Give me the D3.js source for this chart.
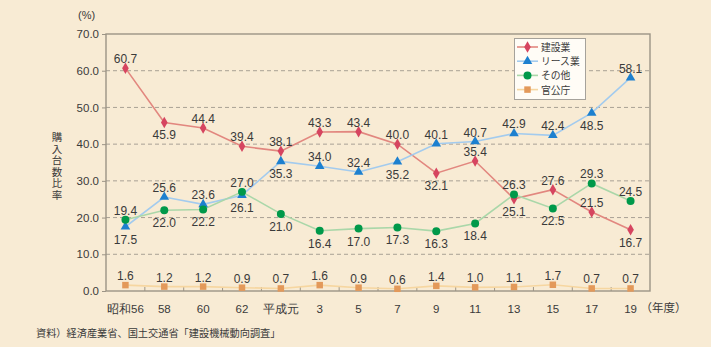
<!DOCTYPE html>
<html><head><meta charset="utf-8">
<script src="https://cdn.jsdelivr.net/npm/d3@7"></script>
<style>
html,body{margin:0;padding:0;background:#f8ebd4;}
svg{display:block;font-family:"Liberation Sans",Arial,"Noto Sans CJK JP",sans-serif;}
</style></head><body>
<svg id="c" width="711" height="347"></svg>
<script>
const categories = ["昭和56","58","60","62","平成元","3","5","7","9","11","13","15","17","19"];
const kensetsu = [60.7,45.9,44.4,39.4,38.1,43.3,43.4,40.0,32.1,35.4,25.1,27.6,21.5,16.7];
const lease    = [17.5,25.6,23.6,26.1,35.3,34.0,32.4,35.2,40.1,40.7,42.9,42.4,48.5,58.1];
const sonota   = [19.4,22.0,22.2,27.0,21.0,16.4,17.0,17.3,16.3,18.4,26.3,22.5,29.3,24.5];
const kankocho = [1.6,1.2,1.2,0.9,0.7,1.6,0.9,0.6,1.4,1.0,1.1,1.7,0.7,0.7];
const yTicks = [0,10,20,30,40,50,60,70];
const seriesNames = ["建設業","リース業","その他","官公庁"];
// label placement: a = above, b = below
const kensetsuLbl = ["a","b","a","a","a","a","a","a","b","a","b","a","a","b"];
const leaseLbl    = ["b","a","a","b","b","a","a","b","a","a","a","a","b","a"];
const sonotaLbl   = ["a","b","b","a","b","b","b","b","b","b","a","b","a","a"];
const kankochoLbl = ["a","a","a","a","a","a","a","a","a","a","a","a","a","a"];

const series = [
  {name:seriesNames[0], values:kensetsu, lbl:kensetsuLbl, line:"#e2877f", mark:"#d64560", sym:d3.symbolDiamond, size:38},
  {name:seriesNames[1], values:lease, lbl:leaseLbl, line:"#a3cbee", mark:"#1d80cf", sym:d3.symbolTriangle, size:40},
  {name:seriesNames[2], values:sonota, lbl:sonotaLbl, line:"#aad7a9", mark:"#00994a", sym:d3.symbolCircle, size:50},
  {name:seriesNames[3], values:kankocho, lbl:kankochoLbl, line:"#f6d6a0", mark:"#e3995a", sym:d3.symbolSquare, size:42}
];

const svg = d3.select("#c");
const L=106, R=650, T=34, B=291;
const x = d3.scaleBand().domain(categories).range([L,R]);
const y = d3.scaleLinear().domain([0,70]).range([B,T]);
const cx = c => x(c)+x.bandwidth()/2;
const txt = "#3a3a3a", axisCol="#9c9486";

// grid
svg.append("g").selectAll("line").data(yTicks.filter(t=>t>0&&t<70)).join("line")
  .attr("x1",L).attr("x2",R).attr("y1",d=>y(d)).attr("y2",d=>y(d))
  .attr("stroke","#a9a195").attr("stroke-width",1).attr("stroke-dasharray","4,3");

// frame
svg.append("rect").attr("x",L).attr("y",T).attr("width",R-L).attr("height",B-T)
  .attr("fill","none").attr("stroke",axisCol).attr("stroke-width",1.4);

// y axis
const ya = svg.append("g").attr("transform",`translate(${L},0)`)
  .call(d3.axisLeft(y).tickValues(yTicks).tickFormat(d3.format(".1f")).tickSize(4).tickPadding(3));
ya.select(".domain").remove();
ya.selectAll("line").attr("stroke",axisCol);
ya.selectAll("text").attr("fill",txt).attr("font-size",11.5);

// x axis
const xa = svg.append("g").attr("transform",`translate(0,${B})`)
  .call(d3.axisBottom(x).tickSize(0).tickPadding(14));
xa.select(".domain").remove();
xa.selectAll("text").attr("fill",txt).attr("font-size",11.5);
// minor ticks at band boundaries
svg.append("g").selectAll("line").data(categories.slice(1)).join("line")
  .attr("x1",d=>x(d)).attr("x2",d=>x(d)).attr("y1",B).attr("y2",B-4)
  .attr("stroke",axisCol);

svg.append("text").attr("x",cx("19")+10).attr("y",B+21).attr("fill",txt).attr("font-size",11.5).text("（年度）");
svg.append("text").attr("x",78).attr("y",19).attr("fill",txt).attr("font-size",11).text("(%)");

// y title vertical
svg.append("text").attr("x",57).attr("y",132)
  .attr("style","writing-mode:vertical-rl;letter-spacing:1px")
  .attr("fill",txt).attr("font-size",10.5).attr("font-family","'Noto Sans CJK JP',sans-serif").text("購入台数比率");

// lines
const line = d3.line().x((d,i)=>cx(categories[i])).y(d=>y(d));
series.forEach(s=>{
  svg.append("path").datum(s.values).attr("d",line).attr("fill","none")
    .attr("stroke",s.line).attr("stroke-width",1.6);
});
series.forEach(s=>{
  svg.append("g").selectAll("path").data(s.values).join("path")
    .attr("transform",(d,i)=>`translate(${cx(categories[i])},${y(d)})`)
    .attr("d",d3.symbol().type(s.sym).size(s.size)).attr("fill",s.mark);
  svg.append("g").selectAll("text").data(s.values).join("text")
    .attr("x",(d,i)=>cx(categories[i]))
    .attr("y",(d,i)=>y(d)+(s.lbl[i]==="a"?-5:17))
    .attr("text-anchor","middle").attr("fill",txt).attr("font-size",12)
    .text(d=>d.toFixed(1));
});

// legend
const lg = svg.append("g");
lg.append("rect").attr("x",514.5).attr("y",38.5).attr("width",71).attr("height",61)
  .attr("fill","#fffcf6").attr("stroke","#a6a29b").attr("stroke-width",1);
series.forEach((s,i)=>{
  const yy = 47+i*14.2;
  lg.append("line").attr("x1",517).attr("x2",538).attr("y1",yy).attr("y2",yy).attr("stroke",s.line).attr("stroke-width",1.6);
  lg.append("path").attr("transform",`translate(527.5,${yy})`).attr("d",d3.symbol().type(s.sym).size(s.size)).attr("fill",s.mark);
  lg.append("text").attr("x",541).attr("y",yy+4).attr("fill",txt).attr("font-size",9.8)
    .attr("font-family","'Noto Sans CJK JP',sans-serif").text(s.name);
});

// source
svg.append("text").attr("x",36).attr("y",337).attr("fill",txt).attr("font-size",10.2)
  .attr("font-family","'Noto Sans CJK JP',sans-serif").text("資料）経済産業省、国土交通省「建設機械動向調査」");
</script>
</body></html>
